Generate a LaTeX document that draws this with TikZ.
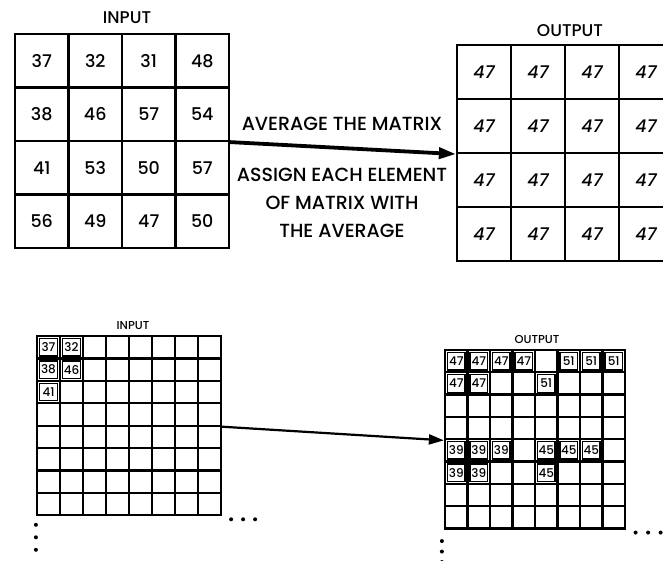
\documentclass[tikz,border=0pt]{standalone}
\usepackage{fontspec}
\setmainfont{Poppins}[UprightFont={* Medium}, ItalicFont={* Medium Italic}]
\usetikzlibrary{arrows.meta, calc, positioning}

\begin{document}
\begin{tikzpicture}[x=1pt, y=-1pt,
	bigcell/.style={draw, line width=2.2pt, minimum width=53.5pt, minimum height=53.5pt, inner sep=0pt, font=\fontsize{17.5}{17.5}\selectfont},
	outcell/.style={draw, line width=2.2pt, minimum width=54pt, minimum height=54pt, inner sep=0pt, font=\fontsize{17.5}{17.5}\selectfont\itshape},
	smallcell/.style={draw, line width=2.2pt, minimum width=#1, minimum height=22.4pt, inner sep=0pt},
	numcell/.style={draw, line width=1.3pt, minimum width=17.5pt, minimum height=17.5pt, inner sep=0pt, font=\fontsize{12}{12}\selectfont},
	title/.style={font=\fontsize{17}{17}\selectfont},
	smalltitle/.style={font=\fontsize{11.5}{11.5}\selectfont},
	caption/.style={font=\fontsize{19}{28}\selectfont, align=center},
	bigarrow/.style={-{Triangle[length=17pt, width=11pt]}, line width=3.8pt},
	smallarrow/.style={-{Triangle[length=15pt, width=10pt]}, line width=2.2pt},
	dot/.style={circle, fill, inner sep=0pt, minimum size=4pt}]
	\useasboundingbox (0,0) rectangle (663,561);
	
	%--- Top: 4x4 input matrix ---
	\foreach \r/\row in {1/{37,32,31,48}, 2/{38,46,57,54}, 3/{41,53,50,57}, 4/{56,49,47,50}}
	  \foreach \n [count=\c] in \row
	    \node[bigcell] (ina-\r-\c) at ({15+(\c-0.5)*53.5},{34+(\r-0.5)*53.5}) {\n};
	\node[title] (ina-title) at (127,18) {INPUT};
	
	%--- Top: 4x4 output matrix (all 47) ---
	\foreach \r in {1,...,4}
	  \foreach \c in {1,...,4}
	    \node[outcell] (outa-\r-\c) at ({457+(\c-0.5)*54},{45+(\r-0.5)*54}) {47};
	\node[title] (outa-title) at (570,31) {OUTPUT};
	
	%--- Top: operation ---
	\draw[bigarrow] (ina-2-4.south east) -- (outa-2-1.south west);
	\node[caption] (avg) at (342,124) {AVERAGE THE MATRIX};
	\node[caption] (assign) at (342,203) {ASSIGN EACH ELEMENT\\OF MATRIX WITH\\THE AVERAGE};
	
	%--- Bottom: 8x8 input matrix ---
	\foreach \r in {1,...,8}
	  \foreach \c in {1,...,8}
	    \node[smallcell=23pt] (inb-\r-\c) at ({37+(\c-0.5)*23},{336+(\r-0.5)*22.4}) {};
	\foreach \r/\c/\n in {1/1/37, 1/2/32, 2/1/38, 2/2/46, 3/1/41}
	  \node[numcell] (inb-n-\r-\c) at (inb-\r-\c) {\n};
	\node[smalltitle] (inb-title) at (133,326) {INPUT};
	\foreach \d in {1,2,3}
	  \node[dot] (inb-h\d) at ($(inb-8-8.south east)+(\d*12-3,3)$) {};
	\foreach \d in {1,2,3}
	  \node[dot] (inb-v\d) at ($(inb-8-1.south west)+(0,\d*12.5-4)$) {};
	
	%--- Bottom: 8x8 output matrix (block averages) ---
	\foreach \r in {1,...,8}
	  \foreach \c in {1,...,8}
	    \node[smallcell=22.5pt] (outb-\r-\c) at ({445+(\c-0.5)*22.5},{350+(\r-0.5)*22.3}) {};
	\foreach \r/\c/\n in {1/1/47, 1/2/47, 1/3/47, 1/4/47, 2/1/47, 2/2/47,
	                      1/6/51, 1/7/51, 1/8/51, 2/5/51,
	                      5/1/39, 5/2/39, 5/3/39, 6/1/39, 6/2/39,
	                      5/5/45, 5/6/45, 5/7/45, 6/5/45}
	  \node[numcell] (outb-n-\r-\c) at (outb-\r-\c) {\n};
	\node[smalltitle] (outb-title) at (537,339) {OUTPUT};
	\foreach \d in {1,2,3}
	  \node[dot] (outb-h\d) at ($(outb-8-8.south east)+(\d*12.5-3,3)$) {};
	\foreach \d in {1,2,3}
	  \node[dot] (outb-v\d) at ($(outb-8-1.south west)+(-2,\d*10.5+1)$) {};
	
	%--- Bottom: operation ---
	\draw[smallarrow] (inb-4-8.south east) -- (outb-4-1.south west);
\end{tikzpicture}
\end{document}
